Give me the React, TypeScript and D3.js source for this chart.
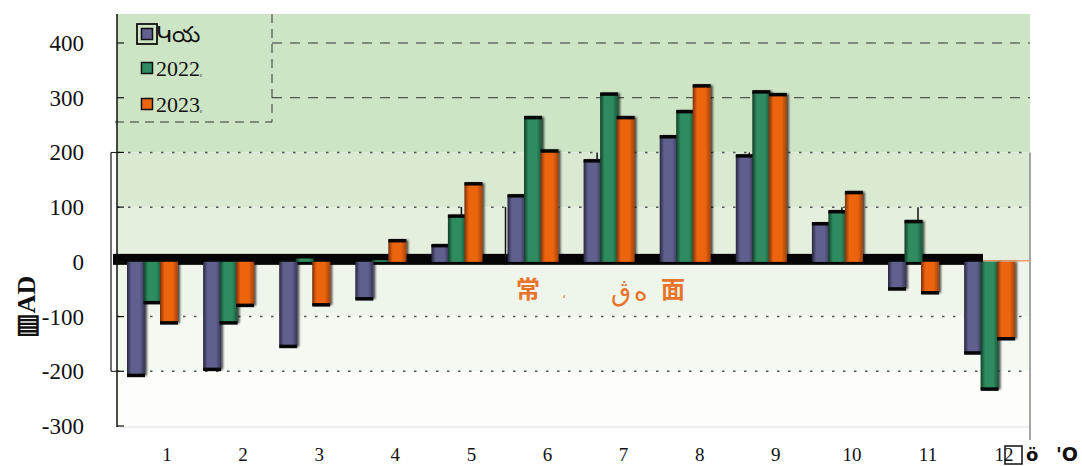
import React from 'react';
import * as d3 from 'd3';

// chart data
const months = ['1', '2', '3', '4', '5', '6', '7', '8', '9', '10', '11', '12'];
const seriesNames = ['Կయ', '2022', '2023'];
const avgValues = [-208, -197, -155, -68, 31, 122, 186, 230, 195, 71, -50, -167];
const values2022 = [-75, -112, 6, 3, 85, 265, 308, 276, 312, 93, 75, -233];
const values2023 = [-112, -80, -79, 40, 144, 204, 265, 323, 307, 128, -57, -141];
const yTicks = [400, 300, 200, 100, 0, -100, -200, -300];
const dashedTicks = [400, 300];
const dottedTicks = [200, 100, -100, -200];
// thin whisker lines that sit above some bars: [month, series, value they reach]
const whiskers: [string, number, number][] = [
  ['5', 1, 100], ['7', 0, 200], ['9', 0, 200], ['10', 1, 100], ['11', 1, 100],
];
// colour bands behind the plot: [from, to, colour]
const bands: [number, number, string][] = [
  [453, 200, '#cde4c5'],
  [200, 100, '#d9e9d2'],
  [100, 0, '#e4efdd'],
  [0, -100, '#eef5ea'],
  [-100, -200, '#f4f9f1'],
  [-200, -300, '#fdfdfa'],
];

const W = 1082;
const H = 466;
const SERIF = 'Times New Roman, Liberation Serif, Tinos, serif';

const colors = [
  { edge: '#26263f', mid: '#61618f', right: '#36365a' },
  { edge: '#123e28', mid: '#2f8c60', right: '#1a5638' },
  { edge: '#7e3010', mid: '#ec650f', right: '#a2420e' },
];

export default function App() {
  const plotLeft = 117;
  const plotRight = 1030;
  const y = d3.scaleLinear().domain([-300, 400]).range([426, 43]);
  const x0 = d3.scaleBand<string>().domain(months).range([118, 118 + 12 * 76.1]);
  const barW = 18;
  const barStep = 16.5;
  const series = [avgValues, values2022, values2023];
  const zeroY = y(0);
  const barX = (m: string, s: number) => (x0(m) as number) + 9 + s * barStep;

  return (
    <svg width={W} height={H} style={{ position: 'absolute', left: 0, top: 0, background: '#fff' }}>
      <defs>
        {colors.map((c, i) => (
          <linearGradient key={i} id={`bar${i}`} x1="0" x2="1" y1="0" y2="0">
            <stop offset="0" stopColor={c.edge} />
            <stop offset="0.25" stopColor={c.mid} />
            <stop offset="0.7" stopColor={c.mid} />
            <stop offset="1" stopColor={c.right} />
          </linearGradient>
        ))}
        <filter id="shadow" x="-30%" y="-10%" width="160%" height="120%">
          <feDropShadow dx="2" dy="0" stdDeviation="1" floodColor="#000" floodOpacity="0.7" />
        </filter>
      </defs>

      {/* background bands */}
      {bands.map(([a, b, c], i) => (
        <rect key={i} x={plotLeft} y={y(a)} width={plotRight - plotLeft} height={y(b) - y(a)} fill={c} />
      ))}
      <line x1={plotLeft} x2={plotRight} y1={y(-300) + 1} y2={y(-300) + 1} stroke="#ddd" />
      <line x1={plotRight} x2={plotRight} y1={y(200)} y2={440} stroke="#888" strokeWidth={1.5} />

      {/* grid lines */}
      {dashedTicks.map(t => (
        <line key={t} x1={272} x2={plotRight} y1={y(t)} y2={y(t)} stroke="#333" strokeDasharray="10,8" />
      ))}
      {dottedTicks.map(t => (
        <line key={t} x1={plotLeft} x2={plotRight} y1={y(t)} y2={y(t)} stroke="#555" strokeWidth={1.5} strokeDasharray="2.5,8.5" />
      ))}

      {/* legend box */}
      <line x1={272} x2={272} y1={14} y2={122} stroke="#333" strokeDasharray="9,6" />
      <line x1={115} x2={272} y1={122} y2={122} stroke="#333" strokeDasharray="9,6" />
      {seriesNames.map((name, i) => {
        const ly = [34, 68, 104][i];
        return (
          <g key={name}>
            {i === 0 && <rect x={137} y={ly - 10} width={20} height={20} fill="none" stroke="#111" strokeWidth={1.8} />}
            <rect x={141.5} y={ly - 5.5} width={11} height={11} fill={colors[i].mid} stroke="#111" strokeWidth={1.5} />
            <text x={156} y={ly + 8} fontFamily={SERIF} fontSize={22} fill="#111">
              {name}
              {i > 0 && <tspan fontSize={8}>ₑ</tspan>}
            </text>
          </g>
        );
      })}

      {/* zero band */}
      <rect x={113} y={zeroY - 8} width={983 - 113} height={11} fill="#050505" />
      <line x1={983} x2={plotRight} y1={zeroY - 1} y2={zeroY - 1} stroke="#f0a070" strokeWidth={1.5} />

      {/* bars */}
      {series.map((vals, s) =>
        months.map((m, i) => {
          const v = vals[i];
          const top = v >= 0 ? y(v) : zeroY;
          const h = Math.abs(y(v) - zeroY);
          const bx = barX(m, s);
          return (
            <g key={`${s}-${m}`}>
              <rect x={bx} y={top} width={barW} height={h} fill={`url(#bar${s})`} filter="url(#shadow)" />
              {Math.abs(v) > 10 && (
                <rect x={bx} y={v >= 0 ? top - 1 : top + h - 2} width={barW} height={3.5} fill="#050505" />
              )}
            </g>
          );
        })
      )}

      {/* whiskers */}
      {whiskers.map(([m, s, to], i) => {
        const v = series[s][months.indexOf(m)];
        const cx = barX(m, s) + barW * 0.75;
        return <line key={i} x1={cx} x2={cx} y1={y(to)} y2={y(v)} stroke="#111" strokeWidth={1.5} />;
      })}
      <line x1={barX('6', 0) - 2} x2={barX('6', 0) - 2} y1={y(100)} y2={zeroY + 3} stroke="#111" strokeWidth={1.5} />

      {/* y axis */}
      <line x1={plotLeft} x2={plotLeft} y1={14} y2={y(-300) + 1} stroke="#111" strokeWidth={1.5} />
      <line x1={111} x2={111} y1={y(200)} y2={y(-200)} stroke="#111" strokeWidth={1.2} />
      <line x1={111} x2={plotLeft} y1={y(200)} y2={y(200)} stroke="#111" />
      <line x1={111} x2={plotLeft} y1={y(-200)} y2={y(-200)} stroke="#111" />
      {yTicks.map(t => (
        <g key={t}>
          <line x1={plotLeft} x2={plotLeft + 7} y1={y(t)} y2={y(t)} stroke="#111" strokeWidth={1.2} />
          <text x={84} y={y(t) + 8} textAnchor="end" fontFamily={SERIF} fontSize={23} fill="#111">{String(t)}</text>
        </g>
      ))}
      <text transform="translate(35,307) rotate(-90)" textAnchor="middle" fontFamily={SERIF} fontWeight="bold" fontSize={26} fill="#111">▥AD</text>

      {/* x labels */}
      {months.map(m => (
        <text key={m} x={(x0(m) as number) + 49} y={461} textAnchor="middle" fontFamily={SERIF} fontSize={19} fill="#111">{m}</text>
      ))}
      <rect x={1005} y={446} width={17} height={18} fill="none" stroke="#111" strokeWidth={1.5} />
      <text x={1026} y={461} fontFamily="DejaVu Sans" fontWeight="bold" fontSize={18} fill="#111">ö</text>
      <text x={1056} y={461} fontFamily="DejaVu Sans" fontWeight="bold" fontSize={19} fill="#111">'O</text>

      {/* orange caption in the plot */}
      <g fill="#e8732a" fontSize={24}>
        <text x={516} y={298} fontFamily="Noto Sans CJK SC" fontWeight="bold">常</text>
        <text x={562} y={298} fontFamily="DejaVu Sans" fontSize={12}>،</text>
        <text x={611} y={301} fontFamily="DejaVu Sans" fontSize={26}>ڨ</text>
        <text x={634} y={301} fontFamily="DejaVu Sans" fontSize={26}>ه</text>
        <text x={661} y={298} fontFamily="Noto Sans CJK SC" fontWeight="bold">面</text>
      </g>
    </svg>
  );
}
